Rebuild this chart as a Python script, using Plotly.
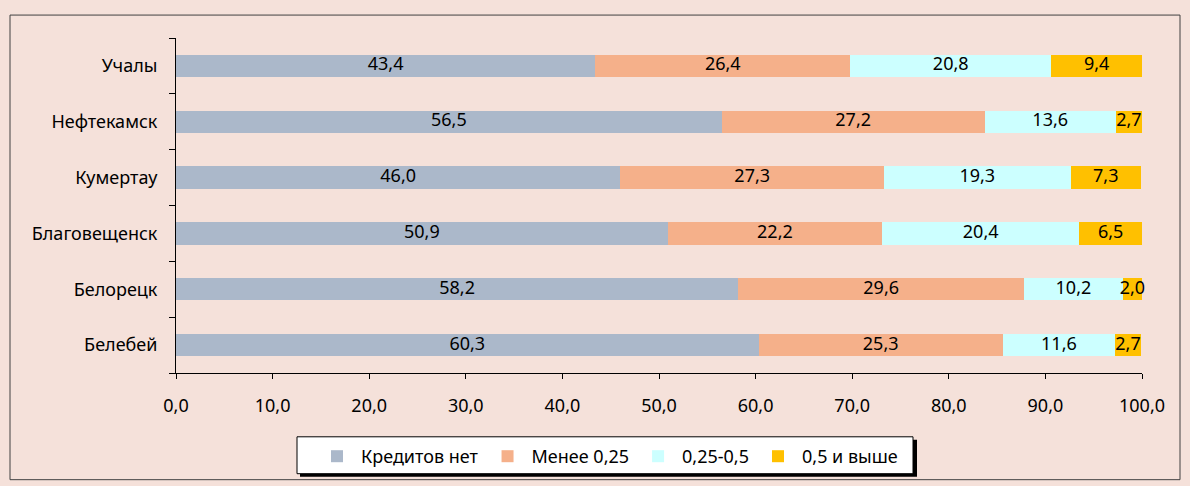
import plotly.graph_objects as go

cities = ["Белебей", "Белорецк", "Благовещенск", "Кумертау", "Нефтекамск", "Учалы"]
series_names = ["Кредитов нет", "Менее 0,25", "0,25-0,5", "0,5 и выше"]
no_credit = [60.3, 58.2, 50.9, 46.0, 56.5, 43.4]
less_025 = [25.3, 29.6, 22.2, 27.3, 27.2, 26.4]
from_025_05 = [11.6, 10.2, 20.4, 19.3, 13.6, 20.8]
above_05 = [2.7, 2.0, 6.5, 7.3, 2.7, 9.4]
colors = ["#ABB8CA", "#F5B08A", "#CCFFFF", "#FFC000"]

FONT = "Noto Sans"
FS = 18
W, H = 1190, 486
L, R, T, B = 176, 48, 38, 112
pw, ph = W - L - R, H - T - B

def px_x(v):
    return (v - L) / pw

def px_y(v):
    return 1 - (v - T) / ph

series = [no_credit, less_025, from_025_05, above_05]
fig = go.Figure()
base = [0.0] * len(cities)
for name, vals, col in zip(series_names, series, colors):
    fig.add_trace(go.Bar(
        y=cities, x=vals, name=name, orientation="h",
        marker=dict(color=col, line=dict(width=0)),
        hoverinfo="skip",
    ))
    mids = [b + v / 2 for b, v in zip(base, vals)]
    fig.add_trace(go.Scatter(
        y=cities, x=mids, mode="text",
        text=[f"{v:.1f}".replace(".", ",") for v in vals],
        textposition="middle center",
        textfont=dict(family=FONT, size=FS, color="black"),
        showlegend=False, cliponaxis=False, hoverinfo="skip",
    ))
    base = [b + v for b, v in zip(base, vals)]

fig.update_layout(
    width=W, height=H,
    barmode="stack", bargap=0.6,
    paper_bgcolor="#F5E1DA", plot_bgcolor="#F5E1DA",
    margin=dict(l=L, r=R, t=T, b=B),
    font=dict(family=FONT, size=FS, color="black"),
    separators=", ",
    showlegend=True,
    legend=dict(
        orientation="h", x=px_x(313), xanchor="left",
        y=px_y(456.5), yanchor="middle",
        bgcolor="rgba(0,0,0,0)", borderwidth=0,
        font=dict(family=FONT, size=FS, color="black"),
        traceorder="normal", itemwidth=38,
    ),
    xaxis=dict(
        range=[0, 100], dtick=10, tickformat=".1f",
        showgrid=False, zeroline=False,
        showline=True, linecolor="black", linewidth=1,
        ticks="outside", ticklen=5, tickcolor="black",
        tickfont=dict(family=FONT, size=FS),
        ticklabelstandoff=11,
    ),
    yaxis=dict(
        showgrid=False, zeroline=False,
        showline=True, linecolor="black", linewidth=1,
        ticks="outside", ticklen=6, tickcolor="black", tickson="boundaries",
        tickfont=dict(family=FONT, size=FS),
        ticklabelstandoff=14,
    ),
    shapes=[
        dict(type="rect", xref="paper", yref="paper",
             x0=px_x(10), x1=px_x(1180), y0=px_y(15), y1=px_y(481),
             line=dict(color="#404040", width=1), fillcolor="rgba(0,0,0,0)", layer="below"),
        dict(type="rect", xref="paper", yref="paper",
             x0=px_x(300), x1=px_x(917), y0=px_y(441), y1=px_y(478),
             line=dict(width=0), fillcolor="#000000", layer="above"),
        dict(type="rect", xref="paper", yref="paper",
             x0=px_x(297), x1=px_x(913), y0=px_y(438), y1=px_y(475),
             line=dict(color="black", width=1), fillcolor="white", layer="above"),
    ],
)

fig.write_html("out.html", config={"displayModeBar": False},
               post_script="document.body.style.margin='0';")
